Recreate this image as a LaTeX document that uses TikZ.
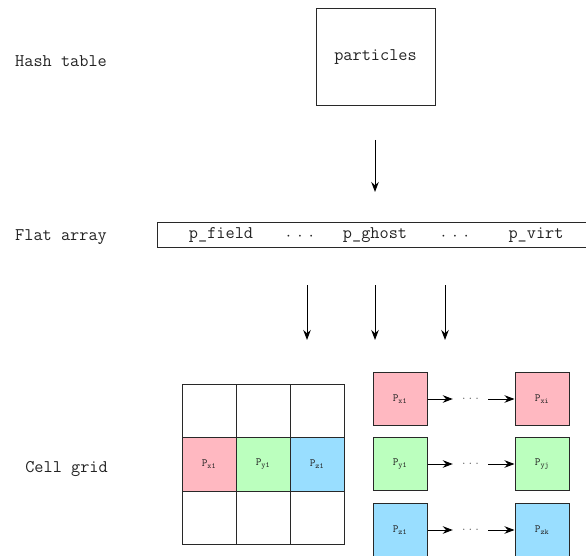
\documentclass[tikz,border=0pt]{standalone}
\usepackage{fontspec}
\usetikzlibrary{arrows.meta}
\definecolor{cpink}{RGB}{255,184,193}
\definecolor{cgreen}{RGB}{187,255,190}
\definecolor{cblue}{RGB}{153,222,255}
\definecolor{lc}{RGB}{40,40,40}
\definecolor{tc}{RGB}{35,35,35}
\tikzset{
  lbl/.style={font=\ttfamily\fontsize{17.8}{20}\selectfont, inner sep=0pt, text=tc},
  atxt/.style={font=\ttfamily\fontsize{17.8}{20}\selectfont, inner sep=0pt, text=tc},
  box/.style={draw=lc, line width=1pt},
  cell/.style={draw=lc, line width=1pt, minimum width=54pt, minimum height=53.5pt, inner sep=0pt, text=tc, font=\ttfamily\fontsize{11}{13}\selectfont},
  arr/.style={-{Stealth[length=10pt,width=7.5pt]}, line width=1pt, draw=black},
  dotsnode/.style={minimum width=35pt, inner sep=0pt, text=tc, font=\fontsize{11}{13}\selectfont},
}
\begin{document}
\begin{tikzpicture}[x=1pt,y=-1pt]
\useasboundingbox (0,0) rectangle (586,556);
\clip (0,0) rectangle (586,556);
% labels
\node[lbl, anchor=west] (lhash) at (15,61) {Hash table};
\node[lbl, anchor=west] (lflat) at (15,237) {Flat array};
\node[lbl, anchor=east] (lcell) at (108,469) {Cell grid};
% hash table box
\node[box, minimum width=119pt, minimum height=97pt, inner sep=0pt, text=tc, font=\ttfamily\fontsize{17.8}{20}\selectfont] (part) at (375.5,57.5) {particles};
% flat array
\node[box, minimum width=432pt, minimum height=25pt, inner sep=0pt, anchor=west] (flat) at (157,234.5) {};
\node[atxt] (pf) at (221,235) {p\_field};
\node[atxt] (d1) at (300,237) {${\cdot}\hspace{6.6pt}{\cdot}\hspace{6.6pt}{\cdot}$};
\node[atxt] (pg) at (375,235) {p\_ghost};
\node[atxt] (d2) at (455,237) {${\cdot}\hspace{6.6pt}{\cdot}\hspace{6.6pt}{\cdot}$};
\node[atxt] (pv) at (536,235) {p\_virt};
% arrow hash -> flat
\coordinate (h1) at (375,140);
\coordinate (h2) at (375,192);
\draw[arr] (h1) -- (h2);
% arrows flat -> grid
\coordinate (f1a) at (307,285); \coordinate (f1b) at (307,340);
\coordinate (f2a) at (375,285); \coordinate (f2b) at (375,340);
\coordinate (f3a) at (445,285); \coordinate (f3b) at (445,340);
\draw[arr] (f1a) -- (f1b);
\draw[arr] (f2a) -- (f2b);
\draw[arr] (f3a) -- (f3b);
% grid
\node[cell] (g11) at (209,410.75) {};
\node[cell] (g12) at (263,410.75) {};
\node[cell] (g13) at (317,410.75) {};
\node[cell, fill=cpink] (g21) at (209,464.25) {P\textsubscript{x1}};
\node[cell, fill=cgreen] (g22) at (263,464.25) {P\textsubscript{y1}};
\node[cell, fill=cblue] (g23) at (317,464.25) {P\textsubscript{z1}};
\node[cell] (g31) at (209,517.75) {};
\node[cell] (g32) at (263,517.75) {};
\node[cell] (g33) at (317,517.75) {};
% chains
\node[cell, fill=cpink] (cx1) at (400,399) {P\textsubscript{x1}};
\node[cell, fill=cgreen] (cy1) at (400,464) {P\textsubscript{y1}};
\node[cell, fill=cblue] (cz1) at (400,530) {P\textsubscript{z1}};
\node[cell, fill=cpink] (cxi) at (542,399) {P\textsubscript{xi}};
\node[cell, fill=cgreen] (cyj) at (542,464) {P\textsubscript{yj}};
\node[cell, fill=cblue] (czk) at (542,530) {P\textsubscript{zk}};
\node[dotsnode] (dx) at (470.5,399) {${\cdot}\hspace{3.6pt}{\cdot}\hspace{3.6pt}{\cdot}$};
\node[dotsnode] (dy) at (470.5,464) {${\cdot}\hspace{3.6pt}{\cdot}\hspace{3.6pt}{\cdot}$};
\node[dotsnode] (dz) at (470.5,530) {${\cdot}\hspace{3.6pt}{\cdot}\hspace{3.6pt}{\cdot}$};
\draw[arr] (cx1) -- (dx); \draw[arr] (dx) -- (cxi);
\draw[arr] (cy1) -- (dy); \draw[arr] (dy) -- (cyj);
\draw[arr] (cz1) -- (dz); \draw[arr] (dz) -- (czk);
\end{tikzpicture}
\end{document}
